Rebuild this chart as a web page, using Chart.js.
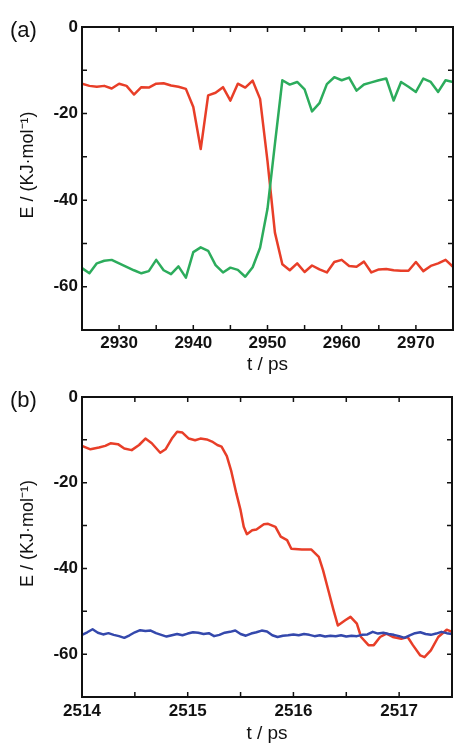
<!DOCTYPE html>
<html>
<head>
<meta charset="utf-8">
<script src="https://cdn.jsdelivr.net/npm/chart.js@4"></script>
<style>
  body { margin: 0; background: #fff; }
  #wrap { position: relative; width: 456px; height: 743px; }
  canvas { position: absolute; left: 0; }
  .tag { position: absolute; left: 10px; font: 22px/24px "Liberation Sans", Arial, sans-serif; color: #111; }
</style>
</head>
<body>
<div id="wrap">
  <canvas id="chartA" width="456" height="376" style="top:0"></canvas>
  <canvas id="chartB" width="456" height="371" style="top:372px"></canvas>
  <div class="tag" style="top:18px">(a)</div>
  <div class="tag" style="top:388px">(b)</div>
</div>
<script>
// panel (a): one sample per ps
var tA = [2925, 2926, 2927, 2928, 2929, 2930, 2931, 2932, 2933, 2934, 2935, 2936, 2937, 2938, 2939, 2940,
  2941, 2942, 2943, 2944, 2945, 2946, 2947, 2948, 2949, 2950, 2951, 2952, 2953, 2954, 2955, 2956, 2957,
  2958, 2959, 2960, 2961, 2962, 2963, 2964, 2965, 2966, 2967, 2968, 2969, 2970, 2971, 2972, 2973, 2974, 2975];
var redA = [-13.1, -13.6, -13.8, -13.6, -14.2, -13.1, -13.6, -15.6, -13.9, -14.0, -13.1, -13.0, -13.5, -13.8, -14.3, -18.5,
  -28.2, -15.8, -15.2, -13.9, -17.0, -13.1, -14.0, -12.4, -16.6, -31.0, -47.5, -54.8, -56.2, -54.6, -56.6, -55.1, -56.0,
  -56.7, -54.3, -53.8, -55.2, -55.4, -54.2, -56.7, -56.0, -55.9, -56.2, -56.3, -56.3, -54.3, -56.4, -55.2, -54.6, -53.8, -55.4];
var greenA = [-55.7, -56.9, -54.6, -54.0, -53.8, -54.6, -55.4, -56.2, -56.9, -56.4, -53.8, -56.2, -57.1, -55.3, -57.9, -52.0,
  -50.9, -51.7, -55.0, -56.7, -55.6, -56.1, -57.7, -55.5, -51.0, -42.0, -27.0, -12.3, -13.3, -12.7, -14.4, -19.5, -17.6,
  -13.2, -11.6, -12.3, -11.7, -14.7, -13.3, -12.8, -12.3, -11.9, -17.0, -12.7, -13.8, -15.0, -11.9, -12.7, -15.0, -12.3, -12.7];

// panel (b)
var tRedB = [2514.00, 2514.08, 2514.16, 2514.22, 2514.27, 2514.34, 2514.40, 2514.47, 2514.54, 2514.60, 2514.66, 2514.74,
  2514.79, 2514.85, 2514.90, 2514.95, 2515.01, 2515.07, 2515.12, 2515.18, 2515.23, 2515.28, 2515.32, 2515.37, 2515.41,
  2515.46, 2515.50, 2515.53, 2515.56, 2515.61, 2515.65, 2515.72, 2515.76, 2515.83, 2515.88, 2515.94, 2515.98, 2516.08,
  2516.17, 2516.24, 2516.28, 2516.33, 2516.38, 2516.42, 2516.49, 2516.54, 2516.60, 2516.64, 2516.71, 2516.76, 2516.82,
  2516.88, 2516.94, 2517.02, 2517.08, 2517.13, 2517.20, 2517.24, 2517.30, 2517.37, 2517.45, 2517.50];
var eRedB = [-11.4, -12.2, -11.8, -11.4, -10.8, -11.0, -12.0, -12.4, -11.2, -9.7, -10.8, -13.0,
  -12.2, -9.7, -8.1, -8.3, -9.7, -10.1, -9.7, -9.9, -10.4, -11.2, -11.6, -13.8, -17.1,
  -22.5, -26.4, -30.3, -32.0, -31.1, -30.9, -29.7, -29.6, -30.3, -32.6, -33.4, -35.4, -35.6,
  -35.6, -37.3, -40.4, -45.1, -49.8, -53.3, -52.1, -51.3, -52.9, -56.0, -57.9, -57.9, -56.0,
  -55.2, -56.0, -56.4, -56.0, -57.9, -60.3, -60.7, -59.1, -56.0, -54.3, -54.8];
var tBlueB = [2514.00, 2514.05, 2514.10, 2514.15, 2514.20, 2514.25, 2514.30, 2514.35, 2514.40, 2514.45, 2514.50, 2514.55,
  2514.60, 2514.65, 2514.70, 2514.75, 2514.80, 2514.85, 2514.90, 2514.95, 2515.00, 2515.05, 2515.10, 2515.15, 2515.20,
  2515.25, 2515.30, 2515.35, 2515.40, 2515.45, 2515.50, 2515.55, 2515.60, 2515.65, 2515.70, 2515.75, 2515.80, 2515.85,
  2515.90, 2515.95, 2516.00, 2516.05, 2516.10, 2516.15, 2516.20, 2516.25, 2516.30, 2516.35, 2516.40, 2516.45, 2516.50,
  2516.55, 2516.60, 2516.65, 2516.70, 2516.75, 2516.80, 2516.85, 2516.90, 2516.95, 2517.00, 2517.05, 2517.10, 2517.15,
  2517.20, 2517.25, 2517.30, 2517.35, 2517.40, 2517.45, 2517.50];
var eBlueB = [-55.5, -54.9, -54.2, -55.0, -55.4, -55.1, -55.5, -55.8, -56.2, -55.6, -54.9, -54.4,
  -54.6, -54.5, -55.1, -55.5, -55.9, -55.6, -55.3, -55.6, -55.2, -54.9, -55.0, -55.3, -55.1,
  -55.8, -55.5, -55.0, -54.8, -54.5, -55.3, -55.7, -55.2, -54.9, -54.5, -54.7, -55.6, -56.0,
  -55.7, -55.6, -55.4, -55.6, -55.3, -55.5, -55.8, -55.6, -55.9, -55.7, -55.8, -55.6, -55.9,
  -55.7, -55.8, -55.5, -55.4, -54.8, -55.2, -55.0, -55.3, -55.5, -55.8, -56.2, -55.6, -55.1,
  -54.9, -55.3, -55.5, -55.2, -54.8, -55.1, -55.3];

var yTicks = [0, -20, -40, -60];

var RED = 'rgb(232,62,40)', GREEN = 'rgb(44,172,92)', BLUE = 'rgb(52,72,172)';
var FONT = '"Liberation Sans", Arial, sans-serif';

function pts(xs, ys) {
  return xs.map(function (x, i) { return { x: x, y: ys[i] }; });
}

// box round the plot with inward ticks on all four sides
var frame = {
  id: 'frame',
  afterDatasetsDraw: function (chart) {
    var ctx = chart.ctx, a = chart.chartArea, x = chart.scales.x, y = chart.scales.y;
    ctx.save();
    ctx.strokeStyle = '#111';
    ctx.lineWidth = 1.5;
    ctx.beginPath();
    x.ticks.forEach(function (t) {
      var px = x.getPixelForValue(t.value);
      ctx.moveTo(px, a.bottom); ctx.lineTo(px, a.bottom - 5);
      ctx.moveTo(px, a.top); ctx.lineTo(px, a.top + 5);
    });
    y.ticks.forEach(function (t) {
      var py = y.getPixelForValue(t.value);
      ctx.moveTo(a.left, py); ctx.lineTo(a.left + 5, py);
      ctx.moveTo(a.right, py); ctx.lineTo(a.right - 5, py);
    });
    ctx.stroke();
    ctx.lineWidth = 2;
    ctx.strokeRect(a.left, a.top, a.right - a.left, a.bottom - a.top);
    ctx.restore();
  }
};

function line(data, color) {
  return { data: data, borderColor: color, borderWidth: 2.5, pointRadius: 0, tension: 0, borderJoinStyle: 'round' };
}

function makeChart(id, datasets, xMin, xMax, xStep, isLabel, opt) {
  return new Chart(id, {
    type: 'line',
    data: { datasets: datasets },
    plugins: [frame],
    options: {
      responsive: false,
      animation: false,
      layout: { padding: { top: opt.top, right: 1, left: 0, bottom: 0 } },
      plugins: { legend: { display: false }, tooltip: { enabled: false } },
      scales: {
        x: {
          type: 'linear', min: xMin, max: xMax,
          grid: { display: false, drawTicks: false }, border: { display: false },
          ticks: {
            stepSize: xStep, autoSkip: false, maxRotation: 0, padding: opt.tickPad, color: '#111',
            font: { family: FONT, size: 17, weight: 'bold' },
            callback: function (v) { return isLabel(v) ? String(v) : ''; }
          },
          title: { display: true, text: 't / ps', color: '#111', font: { family: FONT, size: 19, lineHeight: 1 },
            padding: { top: 0, bottom: opt.titlePad } },
          afterFit: function (s) { s.height = opt.xHeight; }
        },
        y: {
          min: -70, max: 0,
          grid: { display: false, drawTicks: false }, border: { display: false },
          ticks: {
            stepSize: 10, padding: 4, color: '#111',
            font: { family: FONT, size: 17, weight: 'bold' },
            callback: function (v) { return yTicks.indexOf(v) >= 0 ? String(v) : ''; }
          },
          title: { display: true, text: '\u2002\u2002\u2002E / (KJ\u00b7mol\u207b\u00b9)', color: '#111',
            font: { family: FONT, size: 18, lineHeight: 1 }, padding: { top: 19, bottom: 0 } },
          afterFit: function (s) { s.width = 82; }
        }
      }
    }
  });
}

makeChart('chartA', [line(pts(tA, greenA), GREEN), line(pts(tA, redA), RED)],
  2925, 2975, 5, function (v) { return v % 10 === 0; },
  { top: 27, tickPad: 3, titlePad: 2, xHeight: 46 });

makeChart('chartB', [line(pts(tBlueB, eBlueB), BLUE), line(pts(tRedB, eRedB), RED)],
  2514, 2517.5, 0.5, function (v) { return v % 1 === 0; },
  { top: 25, tickPad: 4, titlePad: 0, xHeight: 46 });
</script>
</body>
</html>
